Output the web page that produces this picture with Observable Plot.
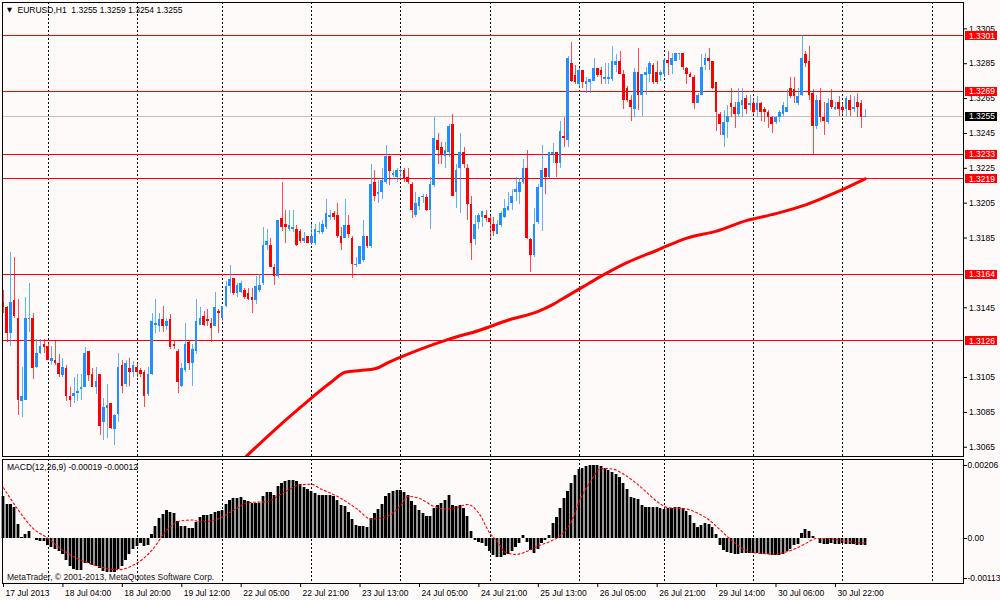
<!DOCTYPE html>
<html><head><meta charset="utf-8">
<script src="https://cdn.jsdelivr.net/npm/d3@7"></script>
<script src="https://cdn.jsdelivr.net/npm/@observablehq/plot@0.6"></script>
<style>
html,body{margin:0;padding:0;background:#FFFAFA;}
#wrap{position:relative;width:1000px;height:600px;overflow:hidden;}
#wrap svg{display:block;position:absolute;left:0;}
#wrap svg rect, #wrap svg line{shape-rendering:crispEdges;}
</style></head>
<body><div id="wrap"></div>
<script>
// ---------- DATA (EURUSD H1) ----------
const open = [1.3148,1.3145,1.3130,1.3149,1.3139,1.3091,1.3092,1.3138,1.3139,1.3111,
1.3119,1.3124,1.3123,1.3114,1.3115,1.3113,1.3106,1.3110,1.3094,1.3094,
1.3096,1.3098,1.3099,1.3120,1.3107,1.3099,1.3107,1.3079,1.3087,1.3090,
1.3075,1.3084,1.3112,1.3101,1.3110,1.3108,1.3111,1.3109,1.3108,1.3095,
1.3107,1.3135,1.3134,1.3138,1.3134,1.3138,1.3124,1.3120,1.3100,1.3109,
1.3125,1.3113,1.3120,1.3135,1.3140,1.3138,1.3136,1.3134,1.3143,1.3139,
1.3146,1.3157,1.3162,1.3153,1.3154,1.3155,1.3153,1.3151,1.3149,1.3155,
1.3159,1.3181,1.3181,1.3168,1.3163,1.3196,1.3193,1.3190,1.3190,1.3190,
1.3189,1.3183,1.3186,1.3182,1.3182,1.3188,1.3188,1.3191,1.3197,1.3199,
1.3198,1.3186,1.3185,1.3192,1.3185,1.3169,1.3170,1.3172,1.3186,1.3180,
1.3217,1.3210,1.3211,1.3217,1.3232,1.3221,1.3220,1.3223,1.3224,1.3220,
1.3216,1.3198,1.3203,1.3208,1.3208,1.3201,1.3215,1.3241,1.3237,1.3232,
1.3234,1.3250,1.3211,1.3225,1.3234,1.3225,1.3204,1.3184,1.3194,1.3197,
1.3198,1.3196,1.3193,1.3187,1.3192,1.3197,1.3201,1.3205,1.3211,1.3211,
1.3217,1.3225,1.3184,1.3175,1.3194,1.3214,1.3225,1.3220,1.3233,1.3234,
1.3228,1.3243,1.3241,1.3285,1.3278,1.3273,1.3281,1.3273,1.3274,1.3275,
1.3282,1.3281,1.3276,1.3276,1.3276,1.3284,1.3286,1.3279,1.3271,1.3264,
1.3259,1.3280,1.3267,1.3278,1.3279,1.3284,1.3280,1.3278,1.3279,1.3287,
1.3284,1.3286,1.3290,1.3291,1.3282,1.3279,1.3277,1.3262,1.3267,1.3284,
1.3288,1.3286,1.3274,1.3256,1.3244,1.3251,1.3262,1.3260,1.3256,1.3261,
1.3265,1.3261,1.3262,1.3258,1.3262,1.3259,1.3257,1.3254,1.3251,1.3254,
1.3256,1.3257,1.3271,1.3270,1.3262,1.3267,1.3290,1.3286,1.3268,1.3249,
1.3264,1.3254,1.3251,1.3264,1.3259,1.3263,1.3260,1.3259,1.3264,1.3259,
1.3263,1.3262,1.3255];
const high = [1.3155,1.3146,1.3177,1.3174,1.3150,1.3111,1.3151,1.3159,1.3142,1.3127,
1.3127,1.3127,1.3125,1.3123,1.3126,1.3118,1.3116,1.3112,1.3099,1.3105,
1.3107,1.3107,1.3122,1.3120,1.3110,1.3111,1.3107,1.3093,1.3101,1.3090,
1.3084,1.3119,1.3115,1.3115,1.3116,1.3114,1.3113,1.3110,1.3109,1.3111,
1.3142,1.3150,1.3142,1.3146,1.3139,1.3141,1.3126,1.3121,1.3113,1.3136,
1.3126,1.3124,1.3150,1.3145,1.3143,1.3144,1.3139,1.3154,1.3144,1.3146,
1.3160,1.3169,1.3162,1.3159,1.3160,1.3156,1.3156,1.3156,1.3163,1.3164,
1.3191,1.3190,1.3185,1.3170,1.3195,1.3217,1.3201,1.3201,1.3201,1.3192,
1.3190,1.3188,1.3186,1.3193,1.3193,1.3194,1.3195,1.3207,1.3201,1.3200,
1.3205,1.3191,1.3207,1.3198,1.3186,1.3174,1.3180,1.3195,1.3186,1.3227,
1.3224,1.3218,1.3225,1.3238,1.3232,1.3224,1.3225,1.3225,1.3225,1.3225,
1.3217,1.3211,1.3208,1.3210,1.3210,1.3220,1.3254,1.3245,1.3240,1.3240,
1.3250,1.3256,1.3227,1.3245,1.3237,1.3227,1.3209,1.3198,1.3199,1.3200,
1.3201,1.3198,1.3197,1.3195,1.3200,1.3207,1.3211,1.3213,1.3220,1.3219,
1.3230,1.3235,1.3185,1.3202,1.3216,1.3238,1.3225,1.3234,1.3239,1.3234,
1.3252,1.3254,1.3289,1.3297,1.3284,1.3282,1.3281,1.3277,1.3276,1.3288,
1.3282,1.3283,1.3285,1.3285,1.3295,1.3290,1.3292,1.3281,1.3272,1.3267,
1.3282,1.3294,1.3279,1.3283,1.3286,1.3285,1.3286,1.3281,1.3288,1.3292,
1.3291,1.3291,1.3291,1.3291,1.3283,1.3280,1.3278,1.3268,1.3290,1.3291,
1.3294,1.3286,1.3274,1.3257,1.3258,1.3261,1.3271,1.3263,1.3271,1.3271,
1.3267,1.3267,1.3265,1.3266,1.3263,1.3260,1.3258,1.3255,1.3255,1.3258,
1.3263,1.3270,1.3277,1.3277,1.3271,1.3301,1.3292,1.3295,1.3270,1.3267,
1.3271,1.3263,1.3265,1.3270,1.3263,1.3266,1.3262,1.3266,1.3267,1.3266,
1.3268,1.3264,1.3259];
const low = [1.3142,1.3125,1.3123,1.3139,1.3083,1.3082,1.3092,1.3131,1.3104,1.3110,
1.3118,1.3119,1.3115,1.3112,1.3112,1.3105,1.3105,1.3091,1.3088,1.3090,
1.3091,1.3092,1.3099,1.3103,1.3099,1.3095,1.3072,1.3069,1.3070,1.3075,
1.3066,1.3079,1.3096,1.3099,1.3100,1.3105,1.3105,1.3105,1.3088,1.3094,
1.3106,1.3130,1.3131,1.3131,1.3132,1.3121,1.3121,1.3096,1.3099,1.3108,
1.3109,1.3100,1.3118,1.3135,1.3134,1.3134,1.3125,1.3134,1.3130,1.3137,
1.3145,1.3153,1.3152,1.3151,1.3153,1.3150,1.3149,1.3142,1.3147,1.3154,
1.3158,1.3178,1.3168,1.3158,1.3162,1.3189,1.3182,1.3189,1.3188,1.3180,
1.3182,1.3182,1.3182,1.3181,1.3181,1.3187,1.3187,1.3190,1.3195,1.3195,
1.3185,1.3178,1.3185,1.3185,1.3162,1.3168,1.3170,1.3171,1.3179,1.3179,
1.3206,1.3205,1.3207,1.3216,1.3215,1.3220,1.3217,1.3219,1.3217,1.3216,
1.3196,1.3197,1.3201,1.3205,1.3200,1.3190,1.3214,1.3227,1.3227,1.3225,
1.3231,1.3209,1.3202,1.3199,1.3225,1.3195,1.3172,1.3181,1.3190,1.3191,
1.3194,1.3185,1.3186,1.3187,1.3191,1.3196,1.3200,1.3201,1.3206,1.3204,
1.3216,1.3184,1.3165,1.3174,1.3193,1.3189,1.3210,1.3219,1.3228,1.3220,
1.3225,1.3237,1.3237,1.3274,1.3273,1.3271,1.3271,1.3268,1.3268,1.3275,
1.3277,1.3273,1.3273,1.3273,1.3275,1.3280,1.3279,1.3259,1.3263,1.3252,
1.3254,1.3258,1.3255,1.3267,1.3274,1.3273,1.3273,1.3275,1.3277,1.3278,
1.3279,1.3286,1.3287,1.3281,1.3273,1.3277,1.3259,1.3262,1.3267,1.3281,
1.3281,1.3270,1.3246,1.3244,1.3237,1.3242,1.3254,1.3248,1.3255,1.3254,
1.3256,1.3258,1.3256,1.3254,1.3252,1.3251,1.3248,1.3245,1.3250,1.3251,
1.3255,1.3257,1.3265,1.3262,1.3261,1.3266,1.3283,1.3264,1.3233,1.3247,
1.3251,1.3244,1.3250,1.3259,1.3258,1.3255,1.3256,1.3255,1.3255,1.3257,
1.3254,1.3248,1.3254];
const close = [1.3145,1.3130,1.3148,1.3140,1.3092,1.3094,1.3139,1.3139,1.3110,1.3119,
1.3123,1.3122,1.3115,1.3116,1.3113,1.3107,1.3111,1.3094,1.3092,1.3096,
1.3097,1.3099,1.3119,1.3106,1.3099,1.3103,1.3077,1.3088,1.3089,1.3076,
1.3083,1.3111,1.3100,1.3113,1.3108,1.3112,1.3108,1.3107,1.3094,1.3107,
1.3137,1.3136,1.3138,1.3134,1.3137,1.3122,1.3123,1.3102,1.3110,1.3124,
1.3113,1.3121,1.3137,1.3139,1.3135,1.3137,1.3133,1.3145,1.3142,1.3146,
1.3157,1.3161,1.3153,1.3158,1.3159,1.3151,1.3150,1.3149,1.3157,1.3158,
1.3181,1.3183,1.3168,1.3163,1.3195,1.3191,1.3191,1.3192,1.3191,1.3181,
1.3183,1.3185,1.3182,1.3186,1.3190,1.3189,1.3193,1.3199,1.3198,1.3197,
1.3186,1.3182,1.3192,1.3187,1.3170,1.3170,1.3180,1.3186,1.3180,1.3216,
1.3209,1.3211,1.3218,1.3232,1.3223,1.3222,1.3224,1.3224,1.3219,1.3217,
1.3201,1.3205,1.3208,1.3209,1.3201,1.3216,1.3242,1.3235,1.3233,1.3235,
1.3249,1.3209,1.3224,1.3234,1.3227,1.3204,1.3182,1.3193,1.3198,1.3200,
1.3196,1.3194,1.3189,1.3193,1.3199,1.3202,1.3203,1.3209,1.3213,1.3217,
1.3225,1.3185,1.3175,1.3193,1.3214,1.3224,1.3220,1.3234,1.3234,1.3228,
1.3246,1.3242,1.3288,1.3275,1.3274,1.3281,1.3274,1.3275,1.3276,1.3282,
1.3278,1.3278,1.3277,1.3277,1.3286,1.3286,1.3279,1.3264,1.3264,1.3260,
1.3280,1.3267,1.3279,1.3280,1.3285,1.3274,1.3274,1.3280,1.3287,1.3285,
1.3288,1.3291,1.3291,1.3283,1.3279,1.3277,1.3262,1.3267,1.3283,1.3288,
1.3286,1.3271,1.3257,1.3250,1.3251,1.3255,1.3260,1.3256,1.3263,1.3264,
1.3259,1.3262,1.3257,1.3262,1.3257,1.3257,1.3254,1.3250,1.3254,1.3257,
1.3261,1.3260,1.3266,1.3266,1.3266,1.3288,1.3285,1.3267,1.3249,1.3264,
1.3254,1.3252,1.3262,1.3260,1.3260,1.3259,1.3258,1.3265,1.3258,1.3260,
1.3260,1.3254,1.3255];

// moving average (red thick line), sampled bar index -> value
const maBars = [64,72,80,88,92,96,100,104,112,120,128,136,144,148,152,156,160,168,176,184,192,200,208,216,224,232];
const maVals = [1.3057,1.3073,1.3088,1.3102,1.3108,1.3109,1.3110,1.3114,1.3121,1.3127,1.3132,1.3138,1.3143,1.3147,1.3152,1.3157,1.3162,1.3171,1.3178,1.3185,1.3189,1.3195,1.3199,1.3204,1.3211,1.3219];

// MACD(12,26,9) main histogram, one value per bar
const macd = [0.00118,0.00097,0.00097,0.00088,0.00040,0.00003,0.00012,0.00021,-0.00001,-0.00007,
-0.00009,-0.00009,-0.00019,-0.00025,-0.00031,-0.00038,-0.00044,-0.00061,-0.00078,-0.00088,
-0.00091,-0.00091,-0.00071,-0.00071,-0.00075,-0.00078,-0.00085,-0.00094,-0.00097,-0.00097,
-0.00097,-0.00088,-0.00080,-0.00061,-0.00044,-0.00031,-0.00022,-0.00014,-0.00022,-0.00019,
0.00012,0.00035,0.00056,0.00069,0.00078,0.00072,0.00071,0.00047,0.00033,0.00035,
0.00028,0.00028,0.00044,0.00059,0.00066,0.00066,0.00069,0.00072,0.00075,0.00080,
0.00097,0.00108,0.00113,0.00113,0.00115,0.00108,0.00105,0.00099,0.00099,0.00099,
0.00118,0.00130,0.00129,0.00122,0.00146,0.00155,0.00162,0.00165,0.00165,0.00160,
0.00152,0.00143,0.00138,0.00132,0.00127,0.00122,0.00120,0.00121,0.00121,0.00118,
0.00106,0.00092,0.00090,0.00074,0.00054,0.00038,0.00035,0.00035,0.00030,0.00055,
0.00071,0.00083,0.00096,0.00118,0.00127,0.00132,0.00134,0.00134,0.00130,0.00121,
0.00104,0.00092,0.00080,0.00071,0.00063,0.00061,0.00085,0.00094,0.00099,0.00106,
0.00120,0.00094,0.00090,0.00094,0.00085,0.00061,0.00021,-0.00005,-0.00011,-0.00014,
-0.00024,-0.00036,-0.00047,-0.00055,-0.00055,-0.00049,-0.00045,-0.00038,-0.00026,-0.00014,
0.00009,-0.00011,-0.00033,-0.00042,-0.00030,-0.00014,-0.00005,0.00009,0.00042,0.00059,
0.00085,0.00113,0.00132,0.00156,0.00177,0.00194,0.00198,0.00202,0.00205,0.00206,
0.00206,0.00203,0.00198,0.00191,0.00187,0.00181,0.00172,0.00156,0.00137,0.00115,
0.00113,0.00109,0.00094,0.00087,0.00087,0.00087,0.00087,0.00085,0.00083,0.00085,
0.00085,0.00087,0.00087,0.00085,0.00076,0.00066,0.00042,0.00030,0.00036,0.00042,
0.00040,0.00030,0.00011,-0.00019,-0.00033,-0.00040,-0.00042,-0.00045,-0.00045,-0.00043,
-0.00042,-0.00042,-0.00042,-0.00043,-0.00045,-0.00045,-0.00045,-0.00047,-0.00049,-0.00049,
-0.00045,-0.00036,-0.00030,-0.00021,-0.00017,0.00014,0.00026,0.00021,0.00005,-0.00001,
-0.00014,-0.00017,-0.00017,-0.00014,-0.00017,-0.00017,-0.00014,-0.00017,-0.00017,-0.00017,
-0.00019,-0.00019,-0.00019];

// MACD signal line (red dotted), sampled bar index -> value
const sigBars = [0,4,8,12,16,22,26,31,35,40,44,48,51,53,57,62,66,71,75,80,83,85,90,95,99,103,107,109,112,116,119,122,125,128,131,133,135,138,141,144,147,150,153,155,158,161,164,167,170,173,176,179,182,184,187,190,193,196,199,202,205,208,210,213,216,219,222,225,228,231,232];
const sigVals = [0.00143,0.00080,0.00028,0.00000,-0.00033,-0.00066,-0.00080,-0.00088,-0.00075,-0.00033,0.00024,0.00050,0.00052,0.00047,0.00052,0.00080,0.00101,0.00104,0.00127,0.00151,0.00153,0.00142,0.00118,0.00085,0.00055,0.00061,0.00094,0.00119,0.00113,0.00090,0.00083,0.00087,0.00096,0.00071,0.00014,-0.00009,-0.00038,-0.00045,-0.00036,-0.00021,-0.00009,0.00009,0.00050,0.00104,0.00160,0.00198,0.00196,0.00181,0.00159,0.00132,0.00104,0.00087,0.00085,0.00083,0.00071,0.00052,0.00024,-0.00005,-0.00028,-0.00040,-0.00043,-0.00045,-0.00040,-0.00030,-0.00014,0.00000,0.00000,-0.00005,-0.00009,-0.00013,-0.00012];

// horizontal price levels, bid, ticks, labels
const levels = [1.3301,1.3269,1.3233,1.3219,1.3164,1.3126];
const bid = 1.3255;
const priceTicks = [1.3305,1.3285,1.3265,1.3245,1.3225,1.3205,1.3185,1.3145,1.3105,1.3085,1.3065];
const macdTicks = [0.00206,0,-0.00113];
const gridBars = [12,36,59,83,107,131,155,178,202,226,250];
const labelBars = [0,16,32,48,64,80,96,112,128,144,160,176,192,208,224];
const labelTexts = ["17 Jul 2013","18 Jul 04:00","18 Jul 20:00","19 Jul 12:00","22 Jul 05:00","22 Jul 21:00","23 Jul 13:00","24 Jul 05:00","24 Jul 21:00","25 Jul 13:00","26 Jul 05:00","26 Jul 21:00","29 Jul 14:00","30 Jul 06:00","30 Jul 22:00"];
const mainTitle = "EURUSD,H1\u00a0 1.3255 1.3259 1.3254 1.3255";
const macdTitle = "MACD(12,26,9) -0.00019 -0.00012";
const copyright = "MetaTrader, \u00a9 2001-2013, MetaQuotes Software Corp.";

// ---------- LAYOUT ----------
const BULL = "#1E90FF", BEAR = "#FF0000";
const STEP = 3.714, BAR0_X = 3;
const FRAME_L = 1.5, FRAME_R = 963;
const toBar = px => (px - BAR0_X) / STEP;
const xDomain = [toBar(FRAME_L), toBar(FRAME_R)];
const FONT = "'Liberation Sans', Arial, sans-serif";
const FS = 8.5;

const candles = open.map((o, i) => ({i, o, h: high[i], l: low[i], c: close[i], up: close[i] >= o}));
const ma = maBars.map((b, k) => ({b, v: maVals[k]}));
const hist = macd.map((v, i) => ({i, v}));
const sig = sigBars.map((b, k) => ({b, v: sigVals[k]}));
const col = d => d.up ? BULL : BEAR;

const boxX1 = toBar(965), boxX2 = toBar(997), boxTextX = toBar(968.5);

const mainPlot = Plot.plot({
  width: 1000, height: 457,
  marginLeft: FRAME_L, marginRight: 1000 - FRAME_R, marginTop: 1.5, marginBottom: 1,
  x: {domain: xDomain, axis: null},
  y: {domain: [1.30597, 1.33204]},
  style: {background: "transparent", fontFamily: FONT, fontSize: FS + "px", overflow: "visible", color: "#000"},
  marks: [
    Plot.ruleX(gridBars, {stroke: "#000", strokeDasharray: "2,2", strokeWidth: 1}),
    Plot.ruleY([bid], {stroke: "#c0c0c0"}),
    Plot.ruleY(levels, {stroke: "#ff0000"}),
    Plot.ruleX(candles, {x: "i", y1: "l", y2: "h", stroke: col, strokeOpacity: 0.7, strokeWidth: 1}),
    Plot.rect(candles, {x1: d => d.i - 0.36, x2: d => d.i + 0.36, y1: "o", y2: "c", fill: col}),
    Plot.ruleY(candles.filter(d => Math.abs(d.o - d.c) < 0.00005), {x1: d => d.i - 0.36, x2: d => d.i + 0.36, y: "c", stroke: col}),
    Plot.line(ma, {x: "b", y: "v", stroke: "#ff0000", strokeWidth: 3, curve: "monotone-x", clip: true}),
    Plot.axisY({anchor: "right", ticks: priceTicks, tickSize: 3, tickPadding: 2.5, tickFormat: ".4f", fontSize: FS, label: null}),
    Plot.ruleY(levels, {x1: boxX1, x2: boxX2, stroke: "#ff0000", strokeWidth: 9}),
    Plot.ruleY([bid], {x1: boxX1, x2: boxX2, stroke: "#000", strokeWidth: 9}),
    Plot.text(levels.concat([bid]), {x: boxTextX, y: d => d, text: d => d.toFixed(4), fill: "#fff", textAnchor: "start", fontSize: FS}),
    Plot.text([mainTitle], {frameAnchor: "top-left", dx: 15.5, dy: 8, textAnchor: "start", lineAnchor: "middle", fontSize: FS, fill: "#000"}),
    Plot.text(["\u25BC"], {frameAnchor: "top-left", dx: 5, dy: 8, textAnchor: "start", lineAnchor: "middle", fontSize: 6.5, fill: "#000", fontFamily: "DejaVu Sans"}),
    Plot.frame({stroke: "#000"})
  ]
});
mainPlot.style.top = "0px";

const macdPlot = Plot.plot({
  width: 1000, height: 143,
  marginLeft: FRAME_L, marginRight: 1000 - FRAME_R, marginTop: 1.5, marginBottom: 17,
  x: {domain: xDomain},
  y: {domain: [-0.001271, 0.002243]},
  style: {background: "transparent", fontFamily: FONT, fontSize: FS + "px", overflow: "visible", color: "#000"},
  marks: [
    Plot.ruleX(gridBars, {stroke: "#000", strokeDasharray: "2,2", strokeWidth: 1}),
    Plot.rect(hist, {x1: d => d.i - 0.5, x2: d => d.i + 0.5, y1: 0, y2: "v", fill: "#9a9a9a"}),
    Plot.rect(hist, {x1: d => d.i - 0.3, x2: d => d.i + 0.3, y1: 0, y2: "v", fill: "#000"}),
    Plot.line(sig, {x: "b", y: "v", stroke: "#ff0000", strokeWidth: 1.1, strokeDasharray: "2,2.5", curve: "monotone-x"}),
    Plot.axisY({anchor: "right", ticks: macdTicks, tickSize: 3, tickPadding: 1, tickFormat: d => d === 0 ? "0.00" : d.toFixed(5), fontSize: FS, label: null}),
    Plot.axisX(labelBars, {anchor: "bottom", tickSize: 4, tickFormat: () => "", label: null}),
    Plot.text(labelBars, {x: d => d, text: (d, i) => labelTexts[i], frameAnchor: "bottom", textAnchor: "start", lineAnchor: "middle", dx: 2, dy: 9.5, fontSize: FS, fill: "#000"}),
    Plot.text([macdTitle], {frameAnchor: "top-left", dx: 5, dy: 8.5, textAnchor: "start", lineAnchor: "middle", fontSize: FS, fill: "#000"}),
    Plot.text([copyright], {frameAnchor: "bottom-left", dx: 5, dy: -6, textAnchor: "start", lineAnchor: "middle", fontSize: FS, fill: "#111"}),
    Plot.frame({stroke: "#000"})
  ]
});
macdPlot.style.top = "457px";

const wrap = document.getElementById("wrap");
wrap.appendChild(mainPlot);
wrap.appendChild(macdPlot);
</script>
</body></html>
